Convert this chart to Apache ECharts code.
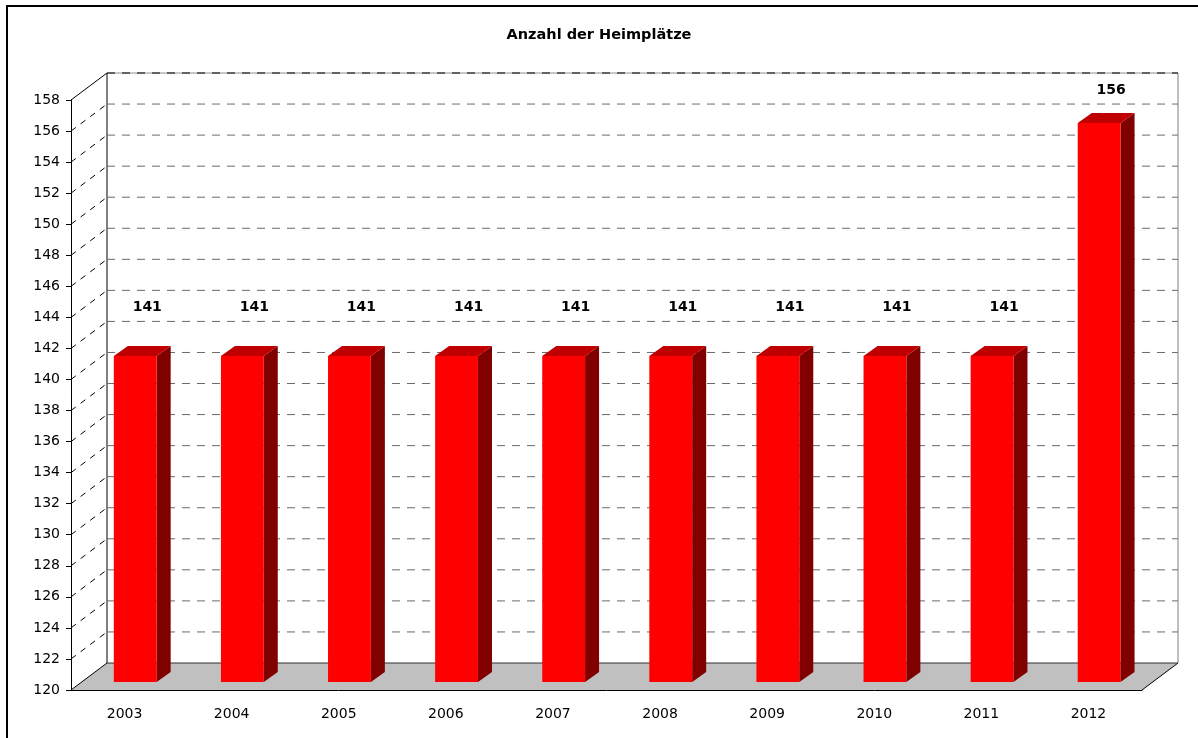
<!DOCTYPE html>
<html>
<head>
<meta charset="utf-8">
<title>Anzahl der Heimplätze</title>
<script src="https://cdn.jsdelivr.net/npm/echarts@6/dist/echarts.min.js"></script>
<style>
  html, body { margin: 0; padding: 0; background: #fff; }
  #chart { width: 1198px; height: 738px; }
</style>
</head>
<body>
<div id="chart"></div>
<script>
// Daten
var years = ['2003', '2004', '2005', '2006', '2007', '2008', '2009', '2010', '2011', '2012']
var plaetze = [141, 141, 141, 141, 141, 141, 141, 141, 141, 156]
var yTicks = [120, 122, 124, 126, 128, 130, 132, 134, 136, 138, 140, 142, 144, 146, 148, 150, 152, 154, 156, 158]

var yMin = 120
var yMax = 158
// Tiefe der 3D-Wand (Pixel)
var DX = 36
var DY = -27
// Balken: Versatz nach hinten und eigene Tiefe
var BOX = 10.7
var BOY = -8
var BDX = 14
var BDY = -10

var font = 'DejaVu Sans'

var chart = echarts.init(document.getElementById('chart'))

function renderWall(params, api) {
  var t = api.value(1)
  var cs = params.coordSys
  var x0 = cs.x
  var x1 = cs.x + cs.width
  var y = api.coord([0, t])[1]
  var children = []
  if (t === yMin) {
    // Boden
    children.push({
      type: 'polygon',
      shape: { points: [[x0, y], [x1, y], [x1 + DX, y + DY], [x0 + DX, y + DY]] },
      style: { fill: '#c0c0c0', stroke: null }
    })
    children.push({
      type: 'line',
      shape: { x1: x1, y1: y, x2: x1 + DX, y2: y + DY },
      style: { stroke: '#000', lineWidth: 1 }
    })
    // Rückwand links / rechts
    var yTop = api.coord([0, yMax])[1]
    children.push({
      type: 'line',
      shape: { x1: x0 + DX, y1: yTop + DY, x2: x0 + DX, y2: y + DY },
      style: { stroke: '#000', lineWidth: 1 }
    })
    children.push({
      type: 'line',
      shape: { x1: x1 + DX, y1: yTop + DY, x2: x1 + DX, y2: y + DY },
      style: { stroke: '#808080', lineWidth: 1 }
    })
  }
  var edge = (t === yMin || t === yMax)
  // Linie auf der Rückwand
  if (t === yMin) {
    children.push({
      type: 'line',
      shape: { x1: x0 + DX, y1: y + DY, x2: x1 + DX, y2: y + DY },
      style: { stroke: '#303030', lineWidth: 1 }
    })
  } else {
    if (t === yMax) {
      children.push({
        type: 'line',
        shape: { x1: x0 + DX, y1: y + DY, x2: x1 + DX, y2: y + DY },
        style: { stroke: '#909090', lineWidth: 1 }
      })
    }
    children.push({
      type: 'line',
      shape: { x1: x0 + DX, y1: y + DY, x2: x1 + DX, y2: y + DY },
      style: { stroke: t === yMax ? '#000' : '#6a6a6a', lineWidth: 1, lineDash: [8, 7] }
    })
  }
  // Linie auf der Seitenwand
  children.push({
    type: 'line',
    shape: { x1: x0, y1: y, x2: x0 + DX, y2: y + DY },
    style: { stroke: '#000', lineWidth: 1, lineDash: edge ? null : [6, 6] }
  })
  return { type: 'group', children: children }
}

function renderBar(params, api) {
  var i = api.value(0)
  var v = api.value(1)
  var base = api.coord([i, yMin])
  var top = api.coord([i, v])
  var w = api.size([1, 0])[0] * 0.4
  var fx = base[0] - w / 2 + BOX
  var by = base[1] + BOY
  var ty = top[1] + BOY
  var ly = api.coord([i, Math.min(v + 3, yMax)])[1] - 10
  return {
    type: 'group',
    children: [
      {
        type: 'polygon',
        shape: { points: [[fx + w, ty], [fx + w + BDX, ty + BDY], [fx + w + BDX, by + BDY], [fx + w, by]] },
        style: { fill: '#800000' }
      },
      {
        type: 'polygon',
        shape: { points: [[fx, ty], [fx + w, ty], [fx + w + BDX, ty + BDY], [fx + BDX, ty + BDY]] },
        style: { fill: '#c00000' }
      },
      {
        type: 'rect',
        shape: { x: fx, y: ty, width: w, height: by - ty },
        style: { fill: '#ff0000' }
      },
      {
        type: 'text',
        style: {
          x: fx + w / 2 + 12,
          y: ly,
          text: String(v),
          fill: '#000',
          font: 'bold 14px "' + font + '"',
          align: 'center',
          verticalAlign: 'middle'
        }
      }
    ]
  }
}

var option = {
  animation: false,
  backgroundColor: '#fff',
  title: {
    text: 'Anzahl der Heimplätze',
    left: 'center',
    top: 23,
    textStyle: { fontFamily: font, fontSize: 14.5, fontWeight: 'bold', color: '#000' }
  },
  graphic: [
    {
      type: 'rect',
      shape: { x: 7, y: 6, width: 1400, height: 900 },
      style: { fill: null, stroke: '#000', lineWidth: 2 },
      silent: true,
      z: 100
    }
  ],
  grid: {
    left: 71,
    right: 56,
    top: 100,
    bottom: 48
  },
  xAxis: {
    type: 'category',
    data: years,
    z: 10,
    axisLine: { lineStyle: { color: '#000', width: 1 } },
    axisTick: { length: 9, lineStyle: { color: '#000' } },
    axisLabel: { fontFamily: font, fontSize: 14, color: '#000', margin: 17 },
    splitLine: { show: false }
  },
  yAxis: {
    type: 'value',
    min: yMin,
    max: yMax,
    interval: 2,
    z: 10,
    axisLine: { show: true, lineStyle: { color: '#000', width: 1 } },
    axisTick: { show: true, length: 5, lineStyle: { color: '#000' } },
    axisLabel: { fontFamily: font, fontSize: 14, color: '#000', margin: 11 },
    splitLine: { show: false }
  },
  series: [
    {
      type: 'custom',
      name: 'wand',
      silent: true,
      z: 1,
      renderItem: renderWall,
      data: yTicks.map(function (t) { return [0, t] })
    },
    {
      type: 'custom',
      name: 'Heimplätze',
      z: 3,
      renderItem: renderBar,
      data: plaetze.map(function (v, i) { return [i, v] })
    }
  ]
}

chart.setOption(option)
</script>
</body>
</html>
